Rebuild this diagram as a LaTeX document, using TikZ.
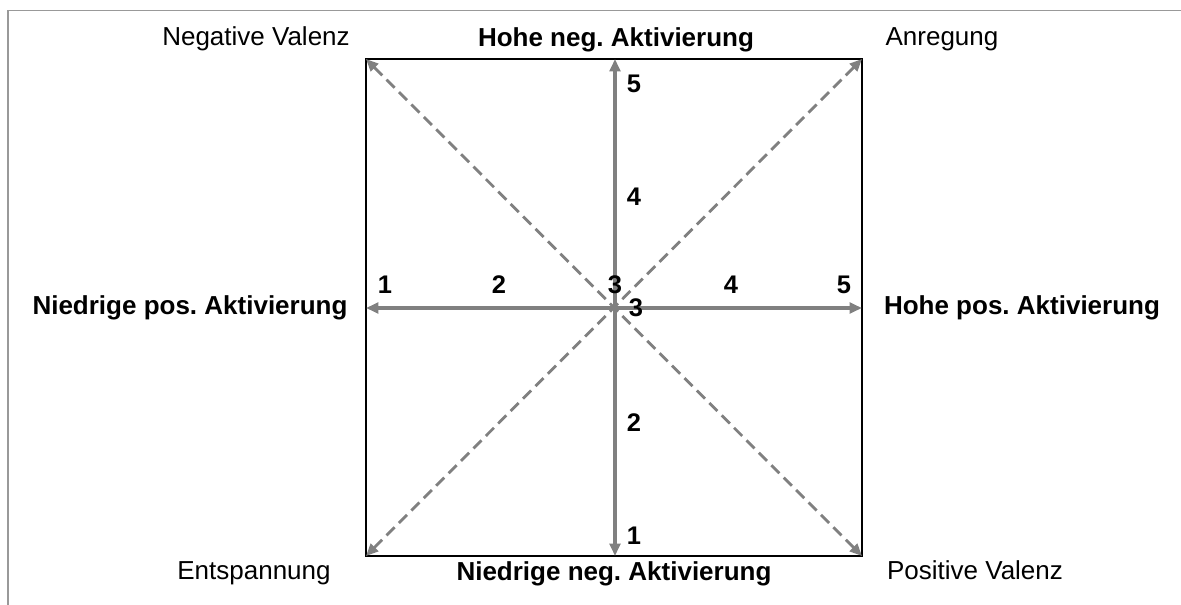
\documentclass[tikz,border=0pt]{standalone}
\usepackage{fontspec}
\setmainfont{Liberation Sans}
\usetikzlibrary{arrows.meta}

\tikzset{
  axisarrow/.style={line width=2.1pt, gray, {Triangle[length=7pt, width=6pt]}-{Triangle[length=7pt, width=6pt]}},
  diagarrow/.style={line width=1.6pt, gray, dash pattern=on 6.5pt off 3.5pt, {Triangle[length=7pt, width=6pt]}-{Triangle[length=7pt, width=6pt]}},
  cornerlabel/.style={anchor=base, inner sep=0pt, font=\fontsize{14.8}{17}\selectfont},
  sidelabel/.style={anchor=base, inner sep=0pt, font=\fontsize{14.8}{17}\selectfont\bfseries},
  scalenum/.style={anchor=base, inner sep=0pt, font=\fontsize{14.5}{16}\selectfont\bfseries}
}

\begin{document}
\frenchspacing
\begin{tikzpicture}[x=0.02cm, y=-0.02cm]
      \useasboundingbox (0,0) rectangle (1181,605);

      % Outer frame (only top and left edges visible)
      \draw[gray!80, line width=1.1pt] (1181,10.5) -- (8,10.5) -- (8,605);

      % Square corners and axis ends
      \coordinate (tl) at (366,59);
      \coordinate (tr) at (862,59);
      \coordinate (bl) at (366,556);
      \coordinate (br) at (862,556);
      \coordinate (top) at (615,59);
      \coordinate (bottom) at (615,556);
      \coordinate (left) at (366,308);
      \coordinate (right) at (862,308);

      % Square
      \draw[black, line width=1pt] (tl) rectangle (br);

      % Diagonals
      \draw[diagarrow] (tl) -- (br);
      \draw[diagarrow] (tr) -- (bl);

      % Axes
      \draw[axisarrow] (top) -- (bottom);
      \draw[axisarrow] (left) -- (right);

      % Corner labels
      \node[cornerlabel] (negval) at (256,46) {Negative Valenz};
      \node[cornerlabel] (anregung) at (942,46) {Anregung};
      \node[cornerlabel] (entspannung) at (254,579) {Entspannung};
      \node[cornerlabel] (posval) at (975,579) {Positive Valenz};

      % Side labels
      \node[sidelabel] (hoheneg) at (616,47) {Hohe neg. Aktivierung};
      \node[sidelabel] (niedrigeneg) at (614,580) {Niedrige neg. Aktivierung};
      \node[sidelabel] (niedrigepos) at (190,314) {Niedrige pos. Aktivierung};
      \node[sidelabel] (hohepos) at (1022,314) {Hohe pos. Aktivierung};

      % Horizontal scale
      \node[scalenum] (h1) at (385,293) {1};
      \node[scalenum] (h2) at (499,293) {2};
      \node[scalenum] (h3) at (615,293) {3};
      \node[scalenum] (h4) at (731,293) {4};
      \node[scalenum] (h5) at (844,293) {5};

      % Vertical scale
      \node[scalenum] (v5) at (634,92) {5};
      \node[scalenum] (v4) at (634,205) {4};
      \node[scalenum] (v3) at (636,316) {3};
      \node[scalenum] (v2) at (634,431) {2};
      \node[scalenum] (v1) at (634,544) {1};

    \end{tikzpicture}
\end{document}
